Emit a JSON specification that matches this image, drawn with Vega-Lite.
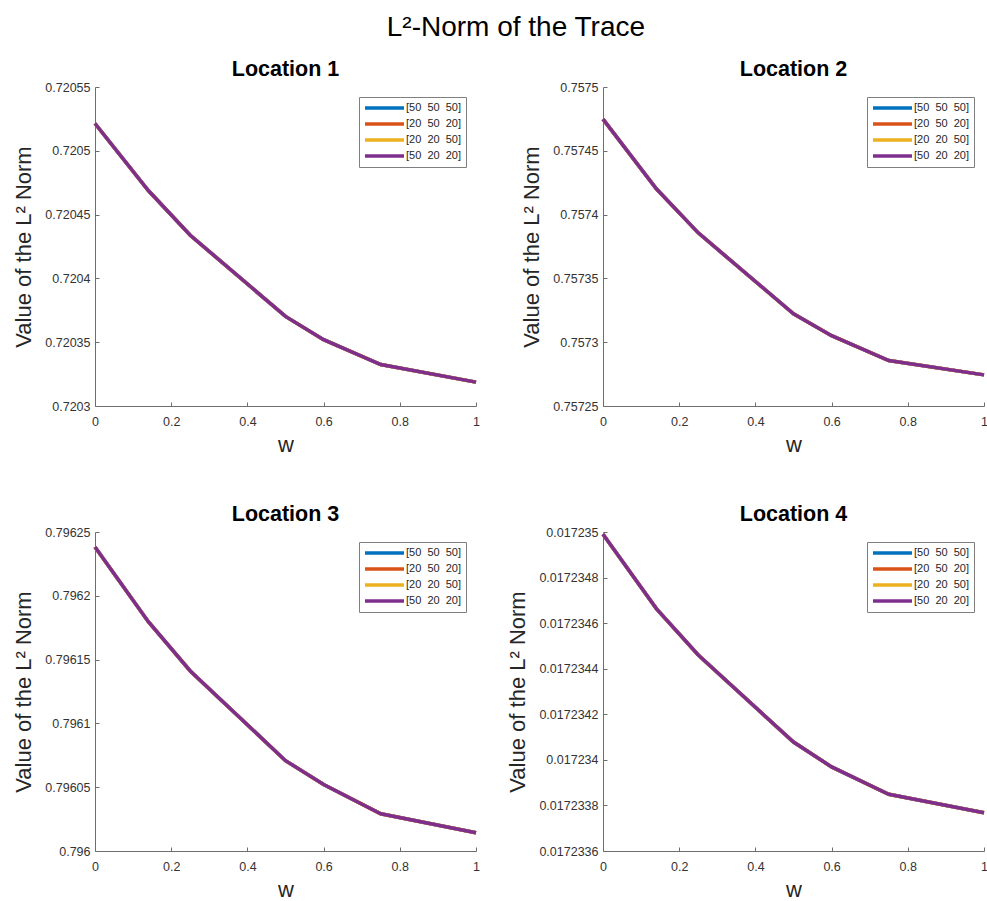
{
  "$schema": "https://vega.github.io/schema/vega-lite/v6.json",
  "background": "white",
  "padding": {"left": 12, "top": 14, "right": 3, "bottom": 5},
  "title": {"text": "L²-Norm of the Trace", "fontSize": 28, "fontWeight": "normal", "anchor": "middle", "offset": 17, "dx": 14, "color": "black", "font": "Liberation Sans"},
  "data": {"values": [
    {"loc":1,"series":"[50\u00a0\u00a050\u00a0\u00a050]","w":0,"value":0.7205214},{"loc":1,"series":"[50\u00a0\u00a050\u00a0\u00a050]","w":0.14,"value":0.7204689},{"loc":1,"series":"[50\u00a0\u00a050\u00a0\u00a050]","w":0.25,"value":0.7204338},{"loc":1,"series":"[50\u00a0\u00a050\u00a0\u00a050]","w":0.5,"value":0.7203702},{"loc":1,"series":"[50\u00a0\u00a050\u00a0\u00a050]","w":0.6,"value":0.720352},{"loc":1,"series":"[50\u00a0\u00a050\u00a0\u00a050]","w":0.75,"value":0.7203325},{"loc":1,"series":"[50\u00a0\u00a050\u00a0\u00a050]","w":1,"value":0.7203187},
    {"loc":1,"series":"[20\u00a0\u00a050\u00a0\u00a020]","w":0,"value":0.7205214},{"loc":1,"series":"[20\u00a0\u00a050\u00a0\u00a020]","w":0.14,"value":0.7204689},{"loc":1,"series":"[20\u00a0\u00a050\u00a0\u00a020]","w":0.25,"value":0.7204338},{"loc":1,"series":"[20\u00a0\u00a050\u00a0\u00a020]","w":0.5,"value":0.7203702},{"loc":1,"series":"[20\u00a0\u00a050\u00a0\u00a020]","w":0.6,"value":0.720352},{"loc":1,"series":"[20\u00a0\u00a050\u00a0\u00a020]","w":0.75,"value":0.7203325},{"loc":1,"series":"[20\u00a0\u00a050\u00a0\u00a020]","w":1,"value":0.7203187},
    {"loc":1,"series":"[20\u00a0\u00a020\u00a0\u00a050]","w":0,"value":0.7205214},{"loc":1,"series":"[20\u00a0\u00a020\u00a0\u00a050]","w":0.14,"value":0.7204689},{"loc":1,"series":"[20\u00a0\u00a020\u00a0\u00a050]","w":0.25,"value":0.7204338},{"loc":1,"series":"[20\u00a0\u00a020\u00a0\u00a050]","w":0.5,"value":0.7203702},{"loc":1,"series":"[20\u00a0\u00a020\u00a0\u00a050]","w":0.6,"value":0.720352},{"loc":1,"series":"[20\u00a0\u00a020\u00a0\u00a050]","w":0.75,"value":0.7203325},{"loc":1,"series":"[20\u00a0\u00a020\u00a0\u00a050]","w":1,"value":0.7203187},
    {"loc":1,"series":"[50\u00a0\u00a020\u00a0\u00a020]","w":0,"value":0.7205214},{"loc":1,"series":"[50\u00a0\u00a020\u00a0\u00a020]","w":0.14,"value":0.7204689},{"loc":1,"series":"[50\u00a0\u00a020\u00a0\u00a020]","w":0.25,"value":0.7204338},{"loc":1,"series":"[50\u00a0\u00a020\u00a0\u00a020]","w":0.5,"value":0.7203702},{"loc":1,"series":"[50\u00a0\u00a020\u00a0\u00a020]","w":0.6,"value":0.720352},{"loc":1,"series":"[50\u00a0\u00a020\u00a0\u00a020]","w":0.75,"value":0.7203325},{"loc":1,"series":"[50\u00a0\u00a020\u00a0\u00a020]","w":1,"value":0.7203187},
    {"loc":2,"series":"[50\u00a0\u00a050\u00a0\u00a050]","w":0,"value":0.7574748},{"loc":2,"series":"[50\u00a0\u00a050\u00a0\u00a050]","w":0.14,"value":0.7574202},{"loc":2,"series":"[50\u00a0\u00a050\u00a0\u00a050]","w":0.25,"value":0.7573857},{"loc":2,"series":"[50\u00a0\u00a050\u00a0\u00a050]","w":0.5,"value":0.7573222},{"loc":2,"series":"[50\u00a0\u00a050\u00a0\u00a050]","w":0.6,"value":0.7573051},{"loc":2,"series":"[50\u00a0\u00a050\u00a0\u00a050]","w":0.75,"value":0.7572856},{"loc":2,"series":"[50\u00a0\u00a050\u00a0\u00a050]","w":1,"value":0.7572744},
    {"loc":2,"series":"[20\u00a0\u00a050\u00a0\u00a020]","w":0,"value":0.7574748},{"loc":2,"series":"[20\u00a0\u00a050\u00a0\u00a020]","w":0.14,"value":0.7574202},{"loc":2,"series":"[20\u00a0\u00a050\u00a0\u00a020]","w":0.25,"value":0.7573857},{"loc":2,"series":"[20\u00a0\u00a050\u00a0\u00a020]","w":0.5,"value":0.7573222},{"loc":2,"series":"[20\u00a0\u00a050\u00a0\u00a020]","w":0.6,"value":0.7573051},{"loc":2,"series":"[20\u00a0\u00a050\u00a0\u00a020]","w":0.75,"value":0.7572856},{"loc":2,"series":"[20\u00a0\u00a050\u00a0\u00a020]","w":1,"value":0.7572744},
    {"loc":2,"series":"[20\u00a0\u00a020\u00a0\u00a050]","w":0,"value":0.7574748},{"loc":2,"series":"[20\u00a0\u00a020\u00a0\u00a050]","w":0.14,"value":0.7574202},{"loc":2,"series":"[20\u00a0\u00a020\u00a0\u00a050]","w":0.25,"value":0.7573857},{"loc":2,"series":"[20\u00a0\u00a020\u00a0\u00a050]","w":0.5,"value":0.7573222},{"loc":2,"series":"[20\u00a0\u00a020\u00a0\u00a050]","w":0.6,"value":0.7573051},{"loc":2,"series":"[20\u00a0\u00a020\u00a0\u00a050]","w":0.75,"value":0.7572856},{"loc":2,"series":"[20\u00a0\u00a020\u00a0\u00a050]","w":1,"value":0.7572744},
    {"loc":2,"series":"[50\u00a0\u00a020\u00a0\u00a020]","w":0,"value":0.7574748},{"loc":2,"series":"[50\u00a0\u00a020\u00a0\u00a020]","w":0.14,"value":0.7574202},{"loc":2,"series":"[50\u00a0\u00a020\u00a0\u00a020]","w":0.25,"value":0.7573857},{"loc":2,"series":"[50\u00a0\u00a020\u00a0\u00a020]","w":0.5,"value":0.7573222},{"loc":2,"series":"[50\u00a0\u00a020\u00a0\u00a020]","w":0.6,"value":0.7573051},{"loc":2,"series":"[50\u00a0\u00a020\u00a0\u00a020]","w":0.75,"value":0.7572856},{"loc":2,"series":"[50\u00a0\u00a020\u00a0\u00a020]","w":1,"value":0.7572744},
    {"loc":3,"series":"[50\u00a0\u00a050\u00a0\u00a050]","w":0,"value":0.7962383},{"loc":3,"series":"[50\u00a0\u00a050\u00a0\u00a050]","w":0.14,"value":0.7961797},{"loc":3,"series":"[50\u00a0\u00a050\u00a0\u00a050]","w":0.25,"value":0.7961411},{"loc":3,"series":"[50\u00a0\u00a050\u00a0\u00a050]","w":0.5,"value":0.7960708},{"loc":3,"series":"[50\u00a0\u00a050\u00a0\u00a050]","w":0.6,"value":0.7960521},{"loc":3,"series":"[50\u00a0\u00a050\u00a0\u00a050]","w":0.75,"value":0.7960292},{"loc":3,"series":"[50\u00a0\u00a050\u00a0\u00a050]","w":1,"value":0.7960143},
    {"loc":3,"series":"[20\u00a0\u00a050\u00a0\u00a020]","w":0,"value":0.7962383},{"loc":3,"series":"[20\u00a0\u00a050\u00a0\u00a020]","w":0.14,"value":0.7961797},{"loc":3,"series":"[20\u00a0\u00a050\u00a0\u00a020]","w":0.25,"value":0.7961411},{"loc":3,"series":"[20\u00a0\u00a050\u00a0\u00a020]","w":0.5,"value":0.7960708},{"loc":3,"series":"[20\u00a0\u00a050\u00a0\u00a020]","w":0.6,"value":0.7960521},{"loc":3,"series":"[20\u00a0\u00a050\u00a0\u00a020]","w":0.75,"value":0.7960292},{"loc":3,"series":"[20\u00a0\u00a050\u00a0\u00a020]","w":1,"value":0.7960143},
    {"loc":3,"series":"[20\u00a0\u00a020\u00a0\u00a050]","w":0,"value":0.7962383},{"loc":3,"series":"[20\u00a0\u00a020\u00a0\u00a050]","w":0.14,"value":0.7961797},{"loc":3,"series":"[20\u00a0\u00a020\u00a0\u00a050]","w":0.25,"value":0.7961411},{"loc":3,"series":"[20\u00a0\u00a020\u00a0\u00a050]","w":0.5,"value":0.7960708},{"loc":3,"series":"[20\u00a0\u00a020\u00a0\u00a050]","w":0.6,"value":0.7960521},{"loc":3,"series":"[20\u00a0\u00a020\u00a0\u00a050]","w":0.75,"value":0.7960292},{"loc":3,"series":"[20\u00a0\u00a020\u00a0\u00a050]","w":1,"value":0.7960143},
    {"loc":3,"series":"[50\u00a0\u00a020\u00a0\u00a020]","w":0,"value":0.7962383},{"loc":3,"series":"[50\u00a0\u00a020\u00a0\u00a020]","w":0.14,"value":0.7961797},{"loc":3,"series":"[50\u00a0\u00a020\u00a0\u00a020]","w":0.25,"value":0.7961411},{"loc":3,"series":"[50\u00a0\u00a020\u00a0\u00a020]","w":0.5,"value":0.7960708},{"loc":3,"series":"[50\u00a0\u00a020\u00a0\u00a020]","w":0.6,"value":0.7960521},{"loc":3,"series":"[50\u00a0\u00a020\u00a0\u00a020]","w":0.75,"value":0.7960292},{"loc":3,"series":"[50\u00a0\u00a020\u00a0\u00a020]","w":1,"value":0.7960143},
    {"loc":4,"series":"[50\u00a0\u00a050\u00a0\u00a050]","w":0,"value":0.01723499},{"loc":4,"series":"[50\u00a0\u00a050\u00a0\u00a050]","w":0.14,"value":0.017234664},{"loc":4,"series":"[50\u00a0\u00a050\u00a0\u00a050]","w":0.25,"value":0.01723446},{"loc":4,"series":"[50\u00a0\u00a050\u00a0\u00a050]","w":0.5,"value":0.017234078},{"loc":4,"series":"[50\u00a0\u00a050\u00a0\u00a050]","w":0.6,"value":0.017233969},{"loc":4,"series":"[50\u00a0\u00a050\u00a0\u00a050]","w":0.75,"value":0.017233849},{"loc":4,"series":"[50\u00a0\u00a050\u00a0\u00a050]","w":1,"value":0.017233768},
    {"loc":4,"series":"[20\u00a0\u00a050\u00a0\u00a020]","w":0,"value":0.01723499},{"loc":4,"series":"[20\u00a0\u00a050\u00a0\u00a020]","w":0.14,"value":0.017234664},{"loc":4,"series":"[20\u00a0\u00a050\u00a0\u00a020]","w":0.25,"value":0.01723446},{"loc":4,"series":"[20\u00a0\u00a050\u00a0\u00a020]","w":0.5,"value":0.017234078},{"loc":4,"series":"[20\u00a0\u00a050\u00a0\u00a020]","w":0.6,"value":0.017233969},{"loc":4,"series":"[20\u00a0\u00a050\u00a0\u00a020]","w":0.75,"value":0.017233849},{"loc":4,"series":"[20\u00a0\u00a050\u00a0\u00a020]","w":1,"value":0.017233768},
    {"loc":4,"series":"[20\u00a0\u00a020\u00a0\u00a050]","w":0,"value":0.01723499},{"loc":4,"series":"[20\u00a0\u00a020\u00a0\u00a050]","w":0.14,"value":0.017234664},{"loc":4,"series":"[20\u00a0\u00a020\u00a0\u00a050]","w":0.25,"value":0.01723446},{"loc":4,"series":"[20\u00a0\u00a020\u00a0\u00a050]","w":0.5,"value":0.017234078},{"loc":4,"series":"[20\u00a0\u00a020\u00a0\u00a050]","w":0.6,"value":0.017233969},{"loc":4,"series":"[20\u00a0\u00a020\u00a0\u00a050]","w":0.75,"value":0.017233849},{"loc":4,"series":"[20\u00a0\u00a020\u00a0\u00a050]","w":1,"value":0.017233768},
    {"loc":4,"series":"[50\u00a0\u00a020\u00a0\u00a020]","w":0,"value":0.01723499},{"loc":4,"series":"[50\u00a0\u00a020\u00a0\u00a020]","w":0.14,"value":0.017234664},{"loc":4,"series":"[50\u00a0\u00a020\u00a0\u00a020]","w":0.25,"value":0.01723446},{"loc":4,"series":"[50\u00a0\u00a020\u00a0\u00a020]","w":0.5,"value":0.017234078},{"loc":4,"series":"[50\u00a0\u00a020\u00a0\u00a020]","w":0.6,"value":0.017233969},{"loc":4,"series":"[50\u00a0\u00a020\u00a0\u00a020]","w":0.75,"value":0.017233849},{"loc":4,"series":"[50\u00a0\u00a020\u00a0\u00a020]","w":1,"value":0.017233768}
  ]},
  "columns": 2,
  "spacing": {"row": 126, "column": 127},
  "bounds": "flush",
  "resolve": {"scale": {"y": "independent"}, "legend": {"color": "independent"}},
  "concat": [
    {
      "title": "Location 1",
      "width": 381, "height": 319,
      "transform": [{"filter": "datum.loc == 1"}],
      "mark": {"type": "line", "strokeWidth": 3.5},
      "encoding": {
        "x": {"field": "w", "type": "quantitative", "scale": {"domain": [0, 1], "nice": false}, "axis": {"values": [0, 0.2, 0.4, 0.6, 0.8, 1], "title": "w"}},
        "y": {"field": "value", "type": "quantitative", "scale": {"domain": [0.7203, 0.72055], "zero": false, "nice": false}, "axis": {"values": [0.7203, 0.72035, 0.7204, 0.72045, 0.7205, 0.72055], "title": "Value of the L² Norm"}},
        "color": {"field": "series", "type": "nominal", "scale": {"domain": ["[50\u00a0\u00a050\u00a0\u00a050]", "[20\u00a0\u00a050\u00a0\u00a020]", "[20\u00a0\u00a020\u00a0\u00a050]", "[50\u00a0\u00a020\u00a0\u00a020]"], "range": ["#0072BD", "#D95319", "#EDB120", "#7E2F8E"]}}
      }
    },
    {
      "title": "Location 2",
      "width": 381, "height": 319,
      "transform": [{"filter": "datum.loc == 2"}],
      "mark": {"type": "line", "strokeWidth": 3.5},
      "encoding": {
        "x": {"field": "w", "type": "quantitative", "scale": {"domain": [0, 1], "nice": false}, "axis": {"values": [0, 0.2, 0.4, 0.6, 0.8, 1], "title": "w"}},
        "y": {"field": "value", "type": "quantitative", "scale": {"domain": [0.75725, 0.7575], "zero": false, "nice": false}, "axis": {"values": [0.75725, 0.7573, 0.75735, 0.7574, 0.75745, 0.7575], "title": "Value of the L² Norm"}},
        "color": {"field": "series", "type": "nominal", "scale": {"domain": ["[50\u00a0\u00a050\u00a0\u00a050]", "[20\u00a0\u00a050\u00a0\u00a020]", "[20\u00a0\u00a020\u00a0\u00a050]", "[50\u00a0\u00a020\u00a0\u00a020]"], "range": ["#0072BD", "#D95319", "#EDB120", "#7E2F8E"]}}
      }
    },
    {
      "title": "Location 3",
      "width": 381, "height": 319,
      "transform": [{"filter": "datum.loc == 3"}],
      "mark": {"type": "line", "strokeWidth": 3.5},
      "encoding": {
        "x": {"field": "w", "type": "quantitative", "scale": {"domain": [0, 1], "nice": false}, "axis": {"values": [0, 0.2, 0.4, 0.6, 0.8, 1], "title": "w"}},
        "y": {"field": "value", "type": "quantitative", "scale": {"domain": [0.796, 0.79625], "zero": false, "nice": false}, "axis": {"values": [0.796, 0.79605, 0.7961, 0.79615, 0.7962, 0.79625], "title": "Value of the L² Norm"}},
        "color": {"field": "series", "type": "nominal", "scale": {"domain": ["[50\u00a0\u00a050\u00a0\u00a050]", "[20\u00a0\u00a050\u00a0\u00a020]", "[20\u00a0\u00a020\u00a0\u00a050]", "[50\u00a0\u00a020\u00a0\u00a020]"], "range": ["#0072BD", "#D95319", "#EDB120", "#7E2F8E"]}}
      }
    },
    {
      "title": "Location 4",
      "width": 381, "height": 319,
      "transform": [{"filter": "datum.loc == 4"}],
      "mark": {"type": "line", "strokeWidth": 3.5},
      "encoding": {
        "x": {"field": "w", "type": "quantitative", "scale": {"domain": [0, 1], "nice": false}, "axis": {"values": [0, 0.2, 0.4, 0.6, 0.8, 1], "title": "w"}},
        "y": {"field": "value", "type": "quantitative", "scale": {"domain": [0.0172336, 0.017235], "zero": false, "nice": false}, "axis": {"values": [0.0172336, 0.0172338, 0.017234, 0.0172342, 0.0172344, 0.0172346, 0.0172348, 0.017235], "title": "Value of the L² Norm"}},
        "color": {"field": "series", "type": "nominal", "scale": {"domain": ["[50\u00a0\u00a050\u00a0\u00a050]", "[20\u00a0\u00a050\u00a0\u00a020]", "[20\u00a0\u00a020\u00a0\u00a050]", "[50\u00a0\u00a020\u00a0\u00a020]"], "range": ["#0072BD", "#D95319", "#EDB120", "#7E2F8E"]}}
      }
    }
  ],
  "config": {
    "font": "Liberation Sans",
    "view": {"stroke": null},
    "title": {"font": "Liberation Sans", "fontSize": 21.5, "fontWeight": "bold", "color": "black", "offset": 0.01},
    "axis": {
      "grid": false,
      "format": "~g",
      "labelFont": "Liberation Sans",
      "labelFontSize": 12.5,
      "labelColor": "#333333",
      "titleFont": "Liberation Sans",
      "titleFontSize": 22,
      "titleFontWeight": "normal",
      "titleColor": "#262626",
      "domainColor": "#6e6e6e",
      "tickColor": "#6e6e6e",
      "tickSize": -4,
      "labelFlush": false,
      "labelOverlap": false
    },
    "axisX": {"labelPadding": 13, "titlePadding": 7},
    "axisY": {"labelPadding": 9, "titlePadding": 9},
    "legend": {
      "orient": "top-right",
      "offset": 10,
      "title": null,
      "strokeColor": "#7f7f7f",
      "fillColor": "white",
      "padding": 4,
      "labelFont": "Liberation Sans",
      "labelFontSize": 11,
      "labelColor": "#262626",
      "symbolType": "M-1,0H6.8",
      "symbolSize": 100,
      "symbolStrokeWidth": 3.5,
      "rowPadding": 2,
      "labelOffset": 29
    }
  }
}
